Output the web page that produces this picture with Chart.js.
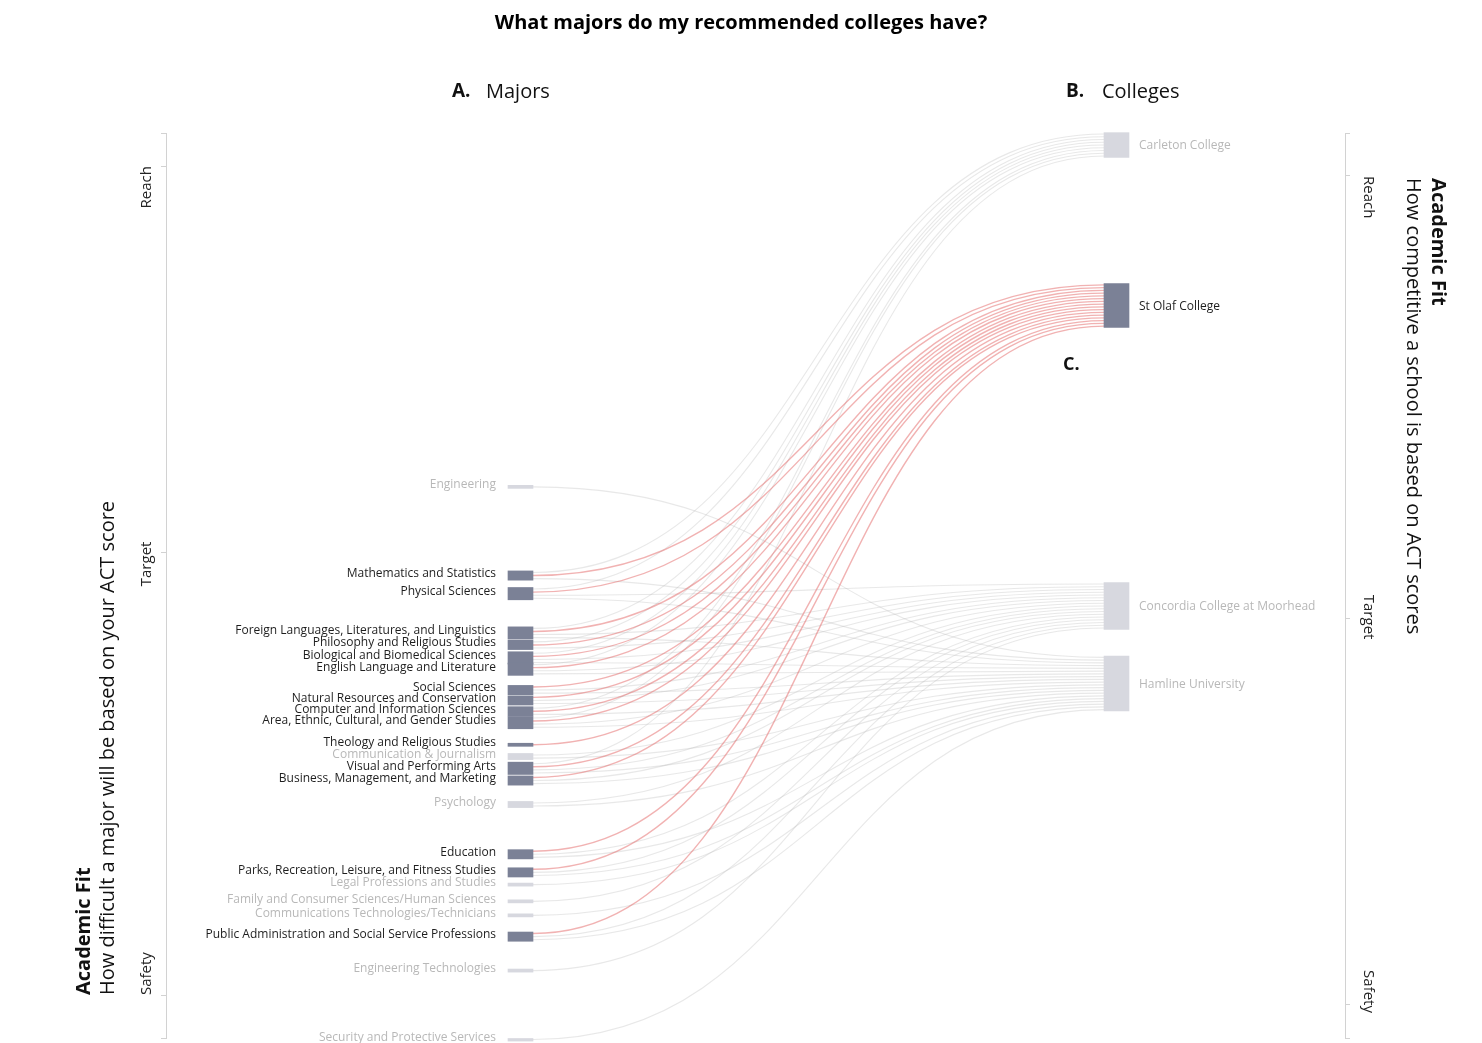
<!DOCTYPE html>
<html>
<head>
<meta charset="utf-8">
<script src="https://cdn.jsdelivr.net/npm/chart.js@4.4.1/dist/chart.umd.min.js"></script>
<style>
  html, body { margin: 0; padding: 0; background: #fff; }
</style>
</head>
<body>
<canvas id="myChart" width="1482" height="1043"></canvas>
<script>
// majors, top to bottom, with their academic fit (0 = safest, 100 = hardest reach)
var majors = [
  "Engineering",
  "Mathematics and Statistics",
  "Physical Sciences",
  "Foreign Languages, Literatures, and Linguistics",
  "Philosophy and Religious Studies",
  "Biological and Biomedical Sciences",
  "English Language and Literature",
  "Social Sciences",
  "Natural Resources and Conservation",
  "Computer and Information Sciences",
  "Area, Ethnic, Cultural, and Gender Studies",
  "Theology and Religious Studies",
  "Communication & Journalism",
  "Visual and Performing Arts",
  "Business, Management, and Marketing",
  "Psychology",
  "Education",
  "Parks, Recreation, Leisure, and Fitness Studies",
  "Legal Professions and Studies",
  "Family and Consumer Sciences/Human Sciences",
  "Communications Technologies/Technicians",
  "Public Administration and Social Service Professions",
  "Engineering Technologies",
  "Security and Protective Services"
];
var majorFit = [60.9, 51.1, 49.1, 44.75, 43.43, 42.0, 40.75, 38.45, 37.3, 36.1, 34.85, 32.4,
  31.1, 29.8, 28.45, 25.8, 20.3, 18.3, 16.95, 15.1, 13.55, 11.2, 7.45, -0.17];

// colleges, top to bottom
var colleges = ["Carleton College", "St Olaf College", "Concordia College at Moorhead", "Hamline University"];
var collegeFit = [98.67, 80.94, 47.73, 39.17];
var selectedCollege = 1; // St Olaf

// which colleges (by index) offer each major
var majorColleges = [
  [3], [0, 1, 3], [0, 1, 2, 3], [0, 1, 2, 3], [0, 1, 2], [0, 1, 2, 3], [0, 1, 2, 3],
  [1, 2, 3], [1, 2, 3], [0, 1, 3], [0, 1, 2, 3], [1], [2, 3], [0, 1, 2, 3], [1, 2, 3],
  [2, 3], [1, 2, 3], [1, 2, 3], [3], [2], [3], [1, 2, 3], [2], [3]
];

var fitLabels = ["Reach", "Target", "Safety"];
var majorFitTicks = [96.35, 53.6, 4.75];
var collegeFitTicks = [95.35, 46.4, 3.65];

// band thickness of one link, in fit units
var majorBand = 0.34, collegeBand = 0.304;

var DARK = "#7b8196", LIGHT = "#d7d8df";
var FONT = "'Open Sans', sans-serif";

Chart.defaults.font.family = FONT;

function offers(i) { return majorColleges[i].indexOf(selectedCollege) >= 0; }

var collegeCount = colleges.map(function (c, j) {
  return majorColleges.filter(function (l) { return l.indexOf(j) >= 0; }).length;
});

var majorBars = majors.map(function (m, i) {
  var h = majorColleges[i].length * majorBand / 2;
  return { x: 0, y: [majorFit[i] - h, majorFit[i] + h] };
});
var collegeBars = colleges.map(function (c, j) {
  var h = collegeCount[j] * collegeBand / 2;
  return { x: 1, y: [collegeFit[j] - h, collegeFit[j] + h] };
});

function setTicks(vals) {
  return function (s) {
    s.ticks = [100].concat(vals, [0]).map(function (v) { return { value: v }; });
  };
}

var linkPlugin = {
  id: "links",
  beforeDatasetsDraw: function (chart) {
    var ctx = chart.ctx, xs = chart.scales.x, yl = chart.scales.yL, yr = chart.scales.yR;
    var x0 = xs.getPixelForValue(0) + 12.5, x1 = xs.getPixelForValue(1) - 12.5, xm = (x0 + x1) / 2;
    // slot positions inside each college node, sorted by major order
    var slot = colleges.map(function () { return 0; });
    var links = [];
    majors.forEach(function (m, i) {
      var top = majorFit[i] + majorColleges[i].length * majorBand / 2;
      majorColleges[i].forEach(function (j, k) {
        var ctop = collegeFit[j] + collegeCount[j] * collegeBand / 2;
        links.push({
          red: j === selectedCollege,
          a: top - (k + 0.5) * majorBand,
          b: ctop - (slot[j] + 0.5) * collegeBand
        });
        slot[j]++;
      });
    });
    ctx.save();
    [false, true].forEach(function (red) {
      ctx.strokeStyle = red ? "rgba(228, 108, 108, 0.52)" : "rgba(180, 180, 180, 0.3)";
      ctx.lineWidth = red ? 1.4 : 1.1;
      links.filter(function (l) { return l.red === red; }).forEach(function (l) {
        var ya = yl.getPixelForValue(l.a), yb = yr.getPixelForValue(l.b);
        ctx.beginPath();
        ctx.moveTo(x0, ya);
        ctx.bezierCurveTo(xm, ya, xm, yb, x1, yb);
        ctx.stroke();
      });
    });
    ctx.restore();
  }
};

function rotText(ctx, txt, x, y, ang, align, font, color) {
  ctx.save();
  ctx.translate(x, y);
  ctx.rotate(ang);
  ctx.textAlign = align;
  ctx.textBaseline = "middle";
  ctx.font = font;
  ctx.fillStyle = color;
  ctx.fillText(txt, 0, 0);
  ctx.restore();
}

var textPlugin = {
  id: "texts",
  afterDraw: function (chart) {
    var ctx = chart.ctx, xs = chart.scales.x, yl = chart.scales.yL, yr = chart.scales.yR;
    var x0 = xs.getPixelForValue(0), x1 = xs.getPixelForValue(1);
    var up = -Math.PI / 2, down = Math.PI / 2;
    ctx.save();
    ctx.textBaseline = "middle";

    // node labels
    ctx.font = "12px " + FONT;
    ctx.textAlign = "right";
    majors.forEach(function (m, i) {
      ctx.fillStyle = offers(i) ? "#1e1e1e" : "#b8b8b8";
      ctx.fillText(m, x0 - 24.5, yl.getPixelForValue(majorFit[i]) - 2);
    });
    ctx.textAlign = "left";
    colleges.forEach(function (c, j) {
      ctx.fillStyle = j === selectedCollege ? "#1e1e1e" : "#b8b8b8";
      ctx.fillText(c, x1 + 22.5, yr.getPixelForValue(collegeFit[j]) + 1);
    });

    // column headers
    var hy = 92;
    ctx.fillStyle = "#111";
    ctx.font = "bold 19px " + FONT;
    ctx.fillText("A.", x0 - 68.5, hy);
    ctx.fillText("B.", x1 - 50.5, hy);
    ctx.font = "20px " + FONT;
    ctx.fillText("Majors", x0 - 34.5, hy);
    ctx.fillText("Colleges", x1 - 14.5, hy);
    ctx.font = "bold 18px " + FONT;
    ctx.fillText("C.", x1 - 53.5, 365);
    ctx.restore();

    // tick labels
    var lx = yl.right - 19.5, rx = yr.left + 23;
    var tf = "15px " + FONT;
    rotText(ctx, fitLabels[0], lx, yl.getPixelForValue(majorFitTicks[0]), up, "right", tf, "#222");
    rotText(ctx, fitLabels[1], lx, yl.getPixelForValue(majorFitTicks[1]) + 11, up, "center", tf, "#222");
    rotText(ctx, fitLabels[2], lx, yl.getPixelForValue(majorFitTicks[2]), up, "left", tf, "#222");
    rotText(ctx, fitLabels[0], rx, yr.getPixelForValue(collegeFitTicks[0]) + 1, down, "left", tf, "#222");
    rotText(ctx, fitLabels[1], rx, yr.getPixelForValue(collegeFitTicks[1]) - 1, down, "center", tf, "#222");
    rotText(ctx, fitLabels[2], rx, yr.getPixelForValue(collegeFitTicks[2]) + 8, down, "right", tf, "#222");

    // axis titles
    var by = yl.getPixelForValue(majorFitTicks[2]);
    rotText(ctx, "Academic Fit", yl.right - 82, by, up, "left", "bold 20px " + FONT, "#111");
    rotText(ctx, "How difficult a major will be based on your ACT score", yl.right - 58, by, up, "left", "20px " + FONT, "#111");
    var ty = yr.getPixelForValue(collegeFitTicks[0]) + 3;
    rotText(ctx, "Academic Fit", yr.left + 93, ty, down, "left", "bold 20px " + FONT, "#111");
    rotText(ctx, "How competitive a school is based on ACT scores", yr.left + 68, ty, down, "left", "20px " + FONT, "#111");
  }
};

var axisGrid = { display: true, drawOnChartArea: false, drawTicks: true, tickLength: 5, color: "#d2d2d2" };

var ctx = document.getElementById("myChart");
var myChart = new Chart(ctx, {
  type: "bar",
  data: {
    datasets: [{
      label: "Majors",
      yAxisID: "yL",
      data: majorBars,
      backgroundColor: majors.map(function (m, i) { return offers(i) ? DARK : LIGHT; }),
      barThickness: 25,
      grouped: false,
      clip: false
    }, {
      label: "Colleges",
      yAxisID: "yR",
      data: collegeBars,
      backgroundColor: colleges.map(function (c, j) { return j === selectedCollege ? DARK : LIGHT; }),
      barThickness: 25,
      grouped: false,
      clip: false
    }]
  },
  options: {
    responsive: false,
    animation: false,
    events: [],
    layout: { padding: { left: 0, right: 0, top: 0, bottom: 5 } },
    plugins: {
      legend: { display: false },
      tooltip: { enabled: false },
      title: {
        display: true,
        text: "What majors do my recommended colleges have?",
        color: "#000",
        font: { family: FONT, size: 20, weight: "bold", lineHeight: 1.2 },
        padding: { top: 11, bottom: 98 }
      }
    },
    scales: {
      x: { type: "linear", display: false, offset: false, min: -0.5948, max: 1.3834 },
      yL: {
        type: "linear", position: "left", min: 0, max: 100,
        afterBuildTicks: setTicks(majorFitTicks),
        afterFit: function (s) { s.width = 166; },
        grid: axisGrid,
        border: { display: true, color: "#d2d2d2" },
        ticks: { display: false }
      },
      yR: {
        type: "linear", position: "right", min: 0, max: 100,
        afterBuildTicks: setTicks(collegeFitTicks),
        afterFit: function (s) { s.width = 137; },
        grid: axisGrid,
        border: { display: true, color: "#d2d2d2" },
        ticks: { display: false }
      }
    }
  },
  plugins: [linkPlugin, textPlugin]
});
</script>
</body>
</html>
